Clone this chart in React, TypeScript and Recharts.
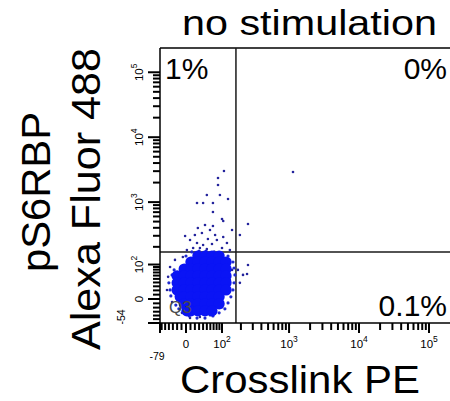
import React from 'react';
import { ScatterChart, Scatter, XAxis, YAxis, ReferenceLine } from 'recharts';

// ---------- texts ----------
const chartTitle = 'no stimulation';
const xTitle = 'Crosslink PE';
const yTitleTop = 'pS6RBP';
const yTitleBottom = 'Alexa Fluor 488';
const quadrantUpperLeft = '1%';
const quadrantUpperRight = '0%';
const quadrantLowerRight = '0.1%';
const quadrantLowerLeftName = 'Q3';

// ---------- axes (fluorescence units) ----------
const xMajorValues = [0, 100, 1000, 10000, 100000];
const xMajorBase = ['0', '10', '10', '10', '10'];
const xMajorExp = ['', '2', '3', '4', '5'];
const xMinLabel = '-79';
const xMinorValues = [
  -60, -50, -40, -30, -20, -10, 10, 20, 30, 40, 50, 60, 70, 80, 90,
  200, 300, 400, 500, 600, 700, 800, 900,
  2000, 3000, 4000, 5000, 6000, 7000, 8000, 9000,
  20000, 30000, 40000, 50000, 60000, 70000, 80000, 90000,
];

const yMajorValues = [0, 100, 1000, 10000, 100000];
const yMajorBase = ['0', '10', '10', '10', '10'];
const yMajorExp = ['', '2', '3', '4', '5'];
const yMinLabel = '-54';
const yMinorValues = [
  -50, -40, -30, -20, -10, 10, 20, 30, 40, 50, 60, 70, 80, 90,
  200, 300, 400, 500, 600, 700, 800, 900,
  2000, 3000, 4000, 5000, 6000, 7000, 8000, 9000,
  20000, 30000, 40000, 50000, 60000, 70000, 80000, 90000,
];

// quadrant gate position
const gateX = 168;
const gateY = 164;

// ---------- events ----------
// dense core of the population [Crosslink PE, pS6RBP]
const denseCore: [number, number][] = [
  [27, 141], [45, 141], [65, 141], [89, 141],
  [11, 111], [27, 111], [45, 111], [65, 111], [89, 111], [117, 111],
  [-4, 82], [11, 82], [27, 82], [45, 82], [65, 82], [89, 82], [117, 82],
  [-20, 59], [-4, 59], [11, 59], [27, 59], [45, 59], [65, 59], [89, 59], [117, 59],
  [-20, 39], [-4, 39], [11, 39], [27, 39], [45, 39], [65, 39], [89, 39], [117, 39],
  [-20, 21], [-4, 21], [11, 21], [27, 21], [45, 21], [65, 21], [89, 21], [117, 21],
  [-13, 5], [-4, 5], [11, 5], [27, 5], [45, 5], [65, 5], [89, 5],
  [-4, -11], [11, -11], [27, -11], [45, -11], [65, -11], [89, -11],
  [2, -28], [11, -28], [27, -28], [45, -28], [65, -28],
];

// sparse events around the population
const sparseEvents: [number, number][] = [
  [108, 3019], [85, 2355], [85, 1837], [50, 1289], [92, 1289], [126, 1118],
  [25, 969], [40, 969], [68, 969], [68, 704], [255, 459], [100, 549],
  [105, 511], [45, 442], [68, 427], [27, 398], [59, 370], [146, 370],
  [193, 309], [-2, 297], [20, 309], [37, 332], [75, 309], [105, 287],
  [9, 257], [53, 267], [81, 257], [25, 230], [40, 214], [65, 222],
  [121, 230], [16, 191], [32, 191], [50, 184], [100, 191], [135, 177],
  [2, 177], [180, 79], [255, 98], [215, 62], [193, 39], [146, 79],
  [135, 47], [247, 65], [-42, 56], [-37, 90], [-25, 121], [-7, 136],
  [-45, 21], [-32, -7], [9, -47], [32, -44], [59, -39], [-9, -33],
  [100, -19], [126, 14], [1139, 2915],
];

// events on the rim of the dense population
const rimEvents: [number, number][] = [
  [-40, 39], [-37, 21], [-35, 7], [-32, 62], [-27, 79], [-23, -14], [-16, -23],
  [0, 141], [13, 165], [30, 171], [48, 171], [72, 165], [96, 159], [126, 141],
  [151, 111], [157, 86], [162, 62], [157, 39], [151, 21], [140, 5], [126, -9], [112, -23],
  [89, -33], [68, -41], [45, -47], [25, -47], [7, -41], [-4, -33],
];

// ---------- display transform (biexponential-like) ----------
const XW = 67.5;
const YW = 64.5;
const tX = (v: number) => Math.asinh(v / XW);
const tY = (v: number) => Math.asinh(v / YW);
const X_DOMAIN: [number, number] = [-0.855, 8.684];
const Y_DOMAIN: [number, number] = [-0.851, 8.9];

type TickSpec = { t: number; major: boolean; base?: string; exp?: string; edge?: boolean };

const xTickSpecs: TickSpec[] = [
  { t: X_DOMAIN[0], major: true, base: xMinLabel, edge: true },
  ...xMinorValues.map((v) => ({ t: tX(v), major: false })),
  ...xMajorValues.map((v, i) => ({ t: tX(v), major: true, base: xMajorBase[i], exp: xMajorExp[i] })),
].sort((a, b) => a.t - b.t);

const yTickSpecs: TickSpec[] = [
  { t: Y_DOMAIN[0], major: true, base: yMinLabel, edge: true },
  ...yMinorValues.map((v) => ({ t: tY(v), major: false })),
  ...yMajorValues.map((v, i) => ({ t: tY(v), major: true, base: yMajorBase[i], exp: yMajorExp[i] })),
].sort((a, b) => a.t - b.t);

const findSpec = (specs: TickSpec[], value: number) =>
  specs.reduce((best, s) => (Math.abs(s.t - value) < Math.abs(best.t - value) ? s : best), specs[0]);

const FONT = "'Liberation Sans', Arial, Helvetica, sans-serif";

const coreData = denseCore.map(([x, y]) => ({ tx: tX(x), ty: tY(y) }));
const sparseData = sparseEvents.map(([x, y]) => ({ tx: tX(x), ty: tY(y) }));
const rimData = rimEvents.map(([x, y]) => ({ tx: tX(x), ty: tY(y) }));

const XTick = (props: any) => {
  const { x, y, payload } = props;
  const spec = findSpec(xTickSpecs, payload.value);
  const len = spec.major ? 10 : 7;
  return (
    <g>
      <line x1={x} x2={x} y1={y} y2={y + len} stroke="#000" strokeWidth={2} />
      {spec.base !== undefined &&
        (spec.edge ? (
          <text x={x - 3} y={y + 37} fontSize={10.5} textAnchor="middle" fontFamily={FONT} fill="#000">
            {spec.base}
          </text>
        ) : (
          <text x={x} y={y + 25} fontSize={11.5} textAnchor="middle" fontFamily={FONT} fill="#000">
            {spec.base}
            {spec.exp ? (
              <tspan dy={-6} fontSize={8.5}>
                {spec.exp}
              </tspan>
            ) : null}
          </text>
        ))}
    </g>
  );
};

const YTick = (props: any) => {
  const { x, y, payload } = props;
  const spec = findSpec(yTickSpecs, payload.value);
  const len = spec.major ? 12 : 7;
  let label: React.ReactNode = null;
  if (spec.base !== undefined) {
    if (spec.edge) {
      const bx = x - 35;
      const by = y - 6;
      label = (
        <text x={bx} y={by} transform={`rotate(-90, ${bx}, ${by})`} fontSize={10.5} textAnchor="middle" fontFamily={FONT} fill="#000">
          {spec.base}
        </text>
      );
    } else {
      const bx = x - 17;
      label = (
        <text x={bx} y={y} transform={`rotate(-90, ${bx}, ${y})`} fontSize={11.5} textAnchor="middle" fontFamily={FONT} fill="#000">
          {spec.base}
          {spec.exp ? (
            <tspan dy={-6} fontSize={8.5}>
              {spec.exp}
            </tspan>
          ) : null}
        </text>
      );
    }
  }
  return (
    <g>
      <line x1={x - len} x2={x} y1={y} y2={y} stroke="#000" strokeWidth={2} />
      {label}
    </g>
  );
};

const CoreDot = (props: any) => <circle cx={props.cx} cy={props.cy} r={5.6} fill="#0a14f5" />;
const RimDot = (props: any) => <circle cx={props.cx} cy={props.cy} r={1.6} fill="#1f2ad0" />;
const SparseDot = (props: any) => <circle cx={props.cx} cy={props.cy} r={1.3} fill="#23239c" />;

export default function App() {
  return (
    <div style={{ position: 'absolute', left: 0, top: 0, width: 450, height: 401, overflow: 'hidden', background: '#fff' }}>
      <ScatterChart width={450} height={401} margin={{ top: 48, right: 0, bottom: 48, left: 100 }}>
        <XAxis type="number" dataKey="tx" domain={X_DOMAIN} allowDataOverflow ticks={xTickSpecs.map((s) => s.t)} interval={0} tick={<XTick />} tickLine={false} tickSize={0} tickMargin={0} height={30} axisLine={{ stroke: '#000', strokeWidth: 1.5 }} />
        <YAxis type="number" dataKey="ty" domain={Y_DOMAIN} allowDataOverflow ticks={yTickSpecs.map((s) => s.t)} interval={0} tick={<YTick />} tickLine={false} tickSize={0} tickMargin={0} width={60} axisLine={{ stroke: '#000', strokeWidth: 1.5 }} />
        <Scatter data={sparseData} shape={SparseDot} isAnimationActive={false} />
        <Scatter data={rimData} shape={RimDot} isAnimationActive={false} />
        <Scatter data={coreData} shape={CoreDot} isAnimationActive={false} />
        <ReferenceLine y={Y_DOMAIN[1]} stroke="#000" strokeWidth={1.5} />
        <ReferenceLine x={tX(gateX)} stroke="#1a1a1a" strokeWidth={1.5} />
        <ReferenceLine y={tY(gateY)} stroke="#1a1a1a" strokeWidth={1.5} />
      </ScatterChart>
      <svg width={450} height={401} style={{ position: 'absolute', left: 0, top: 0, pointerEvents: 'none' }} fontFamily={FONT}>
        <text x={182} y={35} fontSize={35} textLength={255} lengthAdjust="spacingAndGlyphs" fill="#000">{chartTitle}</text>
        <text x={180} y={393} fontSize={39} textLength={240} lengthAdjust="spacingAndGlyphs" fill="#000">{xTitle}</text>
        <text x={50} y={272} transform="rotate(-90, 50, 272)" fontSize={40} textLength={160} lengthAdjust="spacingAndGlyphs" fill="#000">{yTitleTop}</text>
        <text x={100} y={350} transform="rotate(-90, 100, 350)" fontSize={40} textLength={302} lengthAdjust="spacingAndGlyphs" fill="#000">{yTitleBottom}</text>
        <text x={165} y={79} fontSize={30} fill="#000">{quadrantUpperLeft}</text>
        <text x={447} y={79} fontSize={30} textAnchor="end" fill="#000">{quadrantUpperRight}</text>
        <text x={447} y={316} fontSize={30} textAnchor="end" fill="#000">{quadrantLowerRight}</text>
        <text x={169} y={313} fontSize={17} fill="#4a4a4a">{quadrantLowerLeftName}</text>
      </svg>
    </div>
  );
}
